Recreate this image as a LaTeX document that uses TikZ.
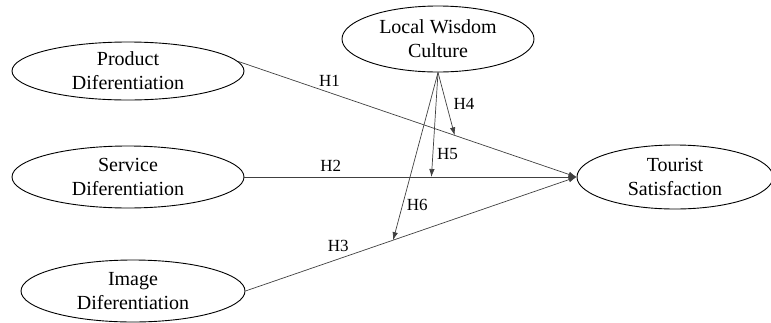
\documentclass[tikz,border=0pt]{standalone}
\usepackage{fontspec}
\setmainfont{Liberation Serif}
\usepackage{tikz}
\usetikzlibrary{shapes.geometric, arrows.meta}
\usetikzlibrary{calc}

\tikzset{
    construct/.style={ellipse,draw,line width=0.9pt,align=center,inner sep=0pt,
        font=\fontsize{20}{24}\selectfont},
    link/.style={draw=black!75,line width=0.7pt,-{Latex[length=8pt,width=5.5pt]}},
    hyp/.style={font=\fontsize{17}{20}\selectfont,inner sep=2pt}
}

\begin{document}
\begin{tikzpicture}[x=1pt,y=-1pt]
    \useasboundingbox (0,0) rectangle (771,322);

    % constructs
    \node[construct,minimum width=232pt,minimum height=58pt] (prod) at (128,71) {Product\\Diferentiation};
    \node[construct,minimum width=232pt,minimum height=62pt] (serv) at (128,177) {Service\\Diferentiation};
    \node[construct,minimum width=224pt,minimum height=62pt] (img) at (133,291) {Image\\Diferentiation};
    \node[construct,minimum width=192pt,minimum height=66pt] (lwc) at (438,39) {Local Wisdom\\Culture};
    \node[construct,minimum width=196pt,minimum height=64pt] (tour) at (675,177) {Tourist\\Satisfaction};

    % direct effects
    \draw[link] (prod.5) -- node[hyp,above=4pt,pos=0.27] {H1}
        coordinate[pos=0.64] (m1) (tour.west);
    \draw[link] (serv.east) -- node[hyp,above=3pt,pos=0.26] {H2}
        coordinate[pos=0.563] (m2) (tour.west);
    \draw[link] (img.east) -- node[hyp,above=5pt,pos=0.28] {H3}
        coordinate[pos=0.446] (m3) (tour.west);

    % moderation
    \draw[link] (lwc.south) -- node[hyp,right=5pt,pos=0.5] {H4} (m1);
    \draw[link] (lwc.south) -- node[hyp,right=2pt,pos=0.78] {H5} (m2);
    \draw[link] (lwc.south) -- node[hyp,right=2pt,pos=0.79] {H6} (m3);

\end{tikzpicture}
\end{document}
